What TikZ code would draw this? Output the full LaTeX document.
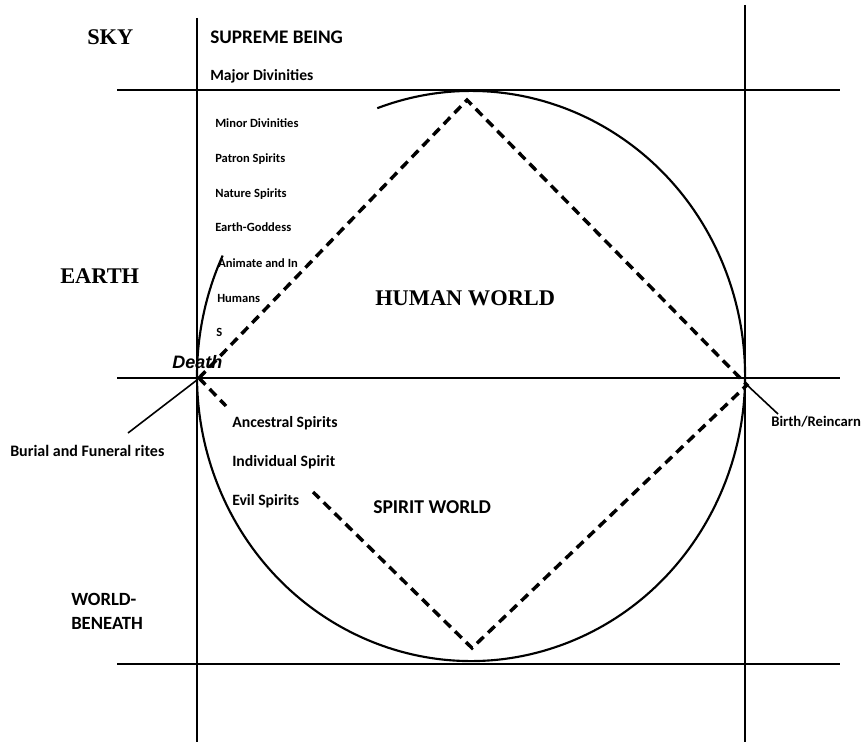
\documentclass[tikz,border=0pt]{standalone}
\usepackage{fontspec}
\setmainfont{Liberation Serif}
\newfontfamily\carlitofam{Carlito}
\newfontfamily\arialfam{Liberation Sans}
\begin{document}
\begin{tikzpicture}[x=0.75pt,y=-0.75pt,
  grid/.style={line width=2.2pt,black},
  ring/.style={line width=1.6pt,black},
  dia/.style={line width=2.6pt,black,dash pattern=on 7pt off 4.5pt},
  lead/.style={line width=1.2pt,black},
  lab/.style={anchor=base west,inner sep=0pt,font=\carlitofam\bfseries\fontsize{#1}{#1}\selectfont},
  serlab/.style={anchor=base west,inner sep=0pt,font=\bfseries\fontsize{16.8pt}{17pt}\selectfont}]
\useasboundingbox (0,0) rectangle (863,742);
% grid
\coordinate (h1a) at (117,90);  \coordinate (h1b) at (840,90);
\coordinate (h2a) at (117,378); \coordinate (h2b) at (840,378);
\coordinate (h3a) at (117,664); \coordinate (h3b) at (840,664);
\coordinate (v1a) at (197,18);  \coordinate (v1b) at (197,742);
\coordinate (v2a) at (745,5);   \coordinate (v2b) at (745,742);
\draw[grid] (h1a) -- (h1b);
\draw[grid] (h2a) -- (h2b);
\draw[grid] (h3a) -- (h3b);
\draw[grid] (v1a) -- (v1b);
\draw[grid] (v2a) -- (v2b);
% circle (open arc)
\coordinate (cc) at (471,376);
\draw[ring] ({471+274*cos(250)},{376+285*sin(250)}) arc[start angle=250,end angle=565,x radius=274,y radius=285];
% dashed diamond
\coordinate (T) at (467,100);
\coordinate (R) at (747,385);
\coordinate (B) at (472,648);
\coordinate (L) at (199,378);
\coordinate (g1) at (226,406);
\coordinate (g2) at (313,492);
\draw[dia] (L) -- (T) -- (R) -- (B) -- (g2);
\draw[dia] (L) -- (g1);
% leaders
\coordinate (bur) at (128,433);
\coordinate (bir) at (778,414);
\coordinate (Ls) at (197,380);
\draw[lead] (Ls) -- (bur);
\draw[lead] (R) -- (bir);
% labels
\node[serlab] (sky) at (87,45) {SKY};
\node[serlab] (earth) at (60,283) {EARTH};
\node[serlab] (hw) at (375,305) {HUMAN WORLD};
\node[lab=14.4pt] (sb) at (210,44) {SUPREME BEING};
\node[lab=11.7pt] (maj) at (210,80) {Major Divinities};
\node[lab=9.4pt] (min) at (215,127) {Minor Divinities};
\node[lab=9.4pt] (pat) at (215,162) {Patron Spirits};
\node[lab=9.4pt] (nat) at (215,197) {Nature Spirits};
\node[lab=9.4pt] (eg) at (215,231) {Earth-Goddess};
\node[lab=9.4pt] (ani) at (218,267) {Animate and In};
\node[lab=9.4pt] (hum) at (217,302) {Humans};
\node[lab=9.4pt] (s) at (216,336) {S};
\node[anchor=base west,inner sep=0pt,font=\arialfam\bfseries\itshape\fontsize{13.5pt}{14pt}\selectfont] (death) at (172,368) {Death};
\node[lab=11.8pt] (anc) at (232,427) {Ancestral Spirits};
\node[lab=11.8pt] (ind) at (232,466) {Individual Spirit};
\node[lab=11.8pt] (evil) at (232,505) {Evil Spirits};
\node[lab=14.7pt] (sw) at (373,513) {SPIRIT WORLD};
\node[lab=12pt] (burt) at (10,456) {Burial and Funeral rites};
\node[lab=11pt] (birt) at (771,426) {Birth/Reincarn};
\node[lab=14pt] (wb1) at (71,605) {WORLD-};
\node[lab=14pt] (wb2) at (71,629) {BENEATH};
\end{tikzpicture}
\end{document}
